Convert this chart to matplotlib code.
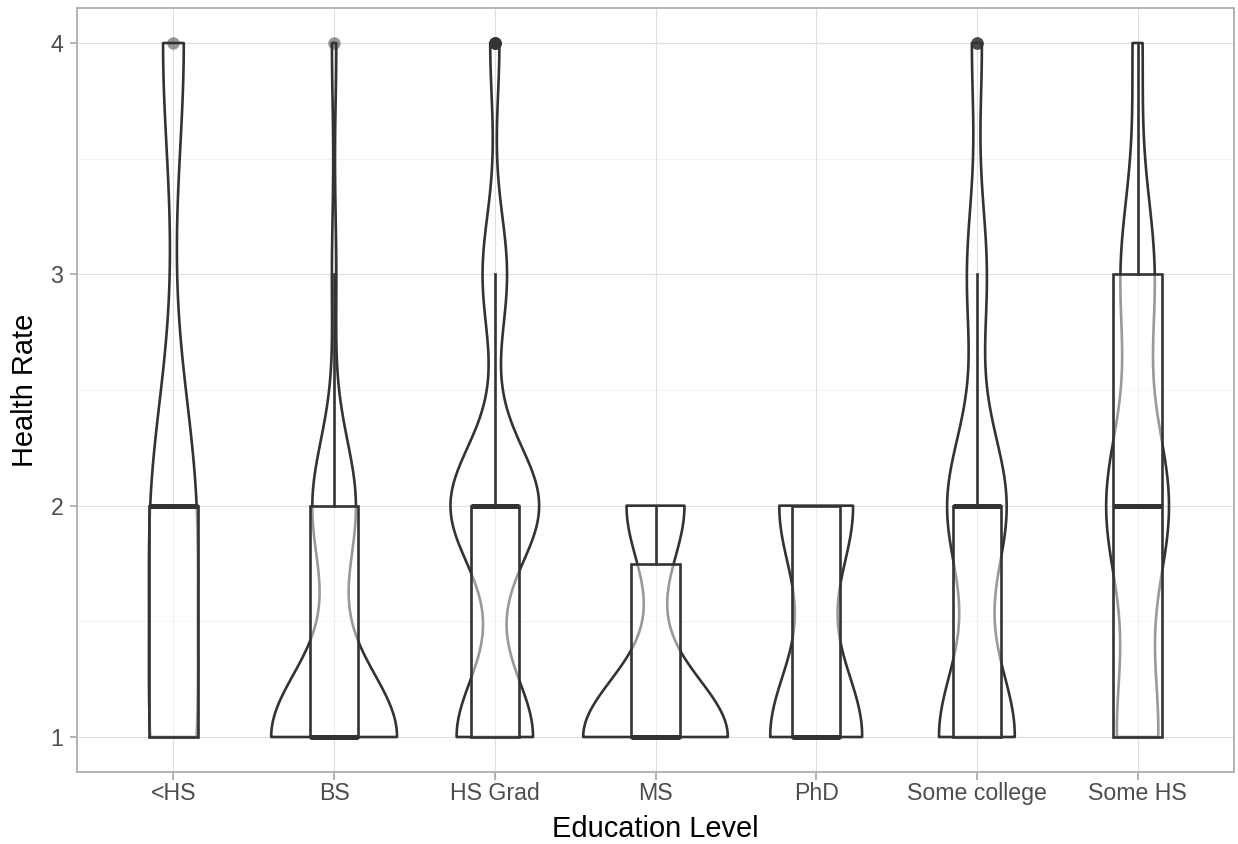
import numpy as np
import matplotlib.pyplot as plt

# education levels (alphabetical, as on the x axis)
levels = ["<HS", "BS", "HS Grad", "MS", "PhD", "Some college", "Some HS"]
ratings = [1, 2, 3, 4]

# number of answers per health rating 1..4, one list per level
cnt_lt_hs = [2, 2, 0, 1]
cnt_bs = [29, 10, 1, 1]
cnt_hs_grad = [50, 58, 16, 6]
cnt_ms = [10, 4, 0, 0]
cnt_phd = [5, 4, 0, 0]
cnt_some_college = [23, 18, 6, 3]
cnt_some_hs = [17, 26, 14, 4]

counts = [cnt_lt_hs, cnt_bs, cnt_hs_grad, cnt_ms, cnt_phd, cnt_some_college, cnt_some_hs]

LINE = '#333333'


def bw_nrd0(x):
    hi = np.std(x, ddof=1)
    iqr = np.percentile(x, 75) - np.percentile(x, 25)
    lo = min(hi, iqr / 1.34)
    if not lo:
        lo = hi or abs(x[0]) or 1.
    return 0.9 * lo * len(x) ** -0.2


def kde(x, grid, bw):
    z = (grid[:, None] - x[None, :]) / bw
    return np.exp(-0.5 * z ** 2).sum(axis=1) / (len(x) * bw * np.sqrt(2 * np.pi))


data = [np.repeat(ratings, c).astype(float) for c in counts]
pos = np.arange(1, len(levels) + 1)

dens = []
for x in data:
    g = np.linspace(x.min(), x.max(), 512)
    dens.append((g, kde(x, g, bw_nrd0(x))))
dmax = max(d.max() for g, d in dens)

fig = plt.figure(figsize=(12.38, 8.44), dpi=100)
ax = fig.add_axes([77 / 1238, 72.3 / 844, 1157 / 1238, 763.4 / 844])

# violins, scale = "area", width 0.9
for p, (g, d) in zip(pos, dens):
    w = d / dmax * 0.45
    ax.fill_betweenx(g, p - w, p + w, facecolor='none', edgecolor=LINE,
                     linewidth=1.9, joinstyle='round', zorder=2)

# boxplots on top, semi-transparent white fill
ax.boxplot(data, positions=pos, widths=0.3, whis=1.5, showcaps=False,
           patch_artist=True, manage_ticks=False, zorder=3,
           boxprops=dict(facecolor=(1, 1, 1, 0.5), edgecolor=LINE, linewidth=1.9),
           whiskerprops=dict(color=LINE, linewidth=1.9),
           medianprops=dict(color=LINE, linewidth=3.6, solid_capstyle='butt'),
           flierprops=dict(marker='o', markerfacecolor=LINE, markeredgecolor='none',
                           alpha=0.5, markersize=9))

ax.set_xlim(0.4, len(levels) + 0.6)
ax.set_ylim(0.85, 4.15)
ax.set_xticks(pos)
ax.set_xticklabels(levels)
ax.set_yticks([1, 2, 3, 4])
ax.set_yticks([1.5, 2.5, 3.5], minor=True)

ax.set_axisbelow(True)
ax.grid(which='major', color='#DEDEDE', linewidth=0.8)
ax.grid(which='minor', axis='y', color='#EBEBEB', linewidth=0.5)
for s in ax.spines.values():
    s.set_color('#B3B3B3')
    s.set_linewidth(1.4)

ax.tick_params(which='major', length=5.4, width=1.4, color='#B3B3B3',
               labelcolor='#4D4D4D', labelsize=16.7)
ax.tick_params(axis='x', pad=1.8)
ax.tick_params(axis='y', pad=4.5)
ax.tick_params(which='minor', length=0)
for lab in ax.get_xticklabels() + ax.get_yticklabels():
    lab.set_family('Liberation Sans')

fig.text(655.5 / 1238, 1.0 / 844, 'Education Level', ha='center', va='bottom',
         fontsize=20.9, family='Liberation Sans', color='black')
fig.text(25 / 1238, (844 - 390) / 844, 'Health Rate', ha='center', va='center',
         rotation=90, fontsize=20.9, family='Liberation Sans', color='black')

fig.savefig('out.png', dpi=100)
